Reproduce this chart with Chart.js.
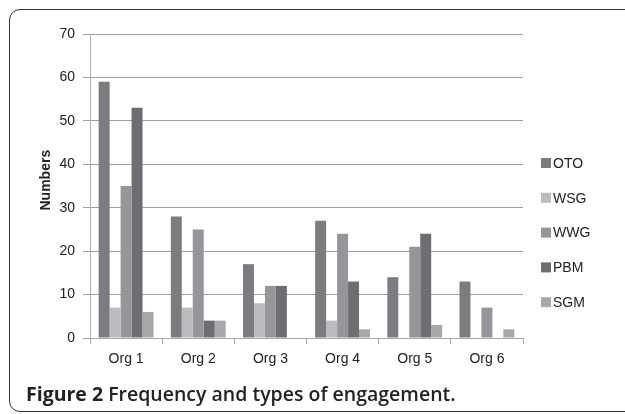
<!DOCTYPE html>
<html>
<head>
<meta charset="utf-8">
<script src="https://cdn.jsdelivr.net/npm/chart.js@4/dist/chart.umd.min.js"></script>
<style>
  html, body { margin: 0; padding: 0; background: #fff; }
  #wrap { position: relative; width: 625px; height: 414px; overflow: hidden; }
  #frame { position: absolute; left: 9px; top: 9px; width: 640px; height: 403px;
           border: 1.5px solid #333; border-radius: 11px; box-sizing: border-box; }
  canvas { position: absolute; left: 0; top: 0; }
  #caption { position: absolute; left: 26px; top: 380px; font-family: "Open Sans", sans-serif;
             font-size: 19.5px; color: #222; white-space: nowrap; font-weight: 600; }
  #caption b { font-weight: 700; }
</style>
</head>
<body>
<div id="wrap">
  <div id="frame"></div>
  <canvas id="c" width="625" height="414"></canvas>
  <div id="caption"><b>Figure 2</b> Frequency and types of engagement.</div>
</div>
<script>
const categories = ["Org 1", "Org 2", "Org 3", "Org 4", "Org 5", "Org 6"];
const seriesNames = ["OTO", "WSG", "WWG", "PBM", "SGM"];
const OTO = [59, 28, 17, 27, 14, 13];
const WSG = [7, 7, 8, 4, 0, 0];
const WWG = [35, 25, 12, 24, 21, 7];
const PBM = [53, 4, 12, 13, 24, 0];
const SGM = [6, 4, 0, 2, 3, 2];
const yTicks = [0, 10, 20, 30, 40, 50, 60, 70];
const colors = ["#7c7c80", "#bcbcbf", "#96969a", "#6e6e72", "#a8a8ab"];
const seriesValues = [OTO, WSG, WWG, PBM, SGM];

const legendPlugin = {
  id: 'sideLegend',
  afterDraw(chart) {
    const ctx = chart.ctx;
    ctx.save();
    ctx.font = '14px "Liberation Sans", Arial, sans-serif';
    ctx.textBaseline = 'middle';
    chart.data.datasets.forEach((ds, i) => {
      const y = 163 + i * 34.8;
      ctx.fillStyle = ds.backgroundColor;
      ctx.fillRect(541, y - 5, 10, 10);
      ctx.fillStyle = '#222';
      ctx.fillText(ds.label, 553, y + 1);
    });
    ctx.restore();
  }
};

new Chart(document.getElementById('c'), {
  type: 'bar',
  data: {
    labels: categories,
    datasets: seriesNames.map((n, i) => ({
      label: n,
      data: seriesValues[i],
      backgroundColor: colors[i],
      borderWidth: 0,
      categoryPercentage: 0.76,
      barPercentage: 1.0
    }))
  },
  options: {
    responsive: false,
    animation: false,
    devicePixelRatio: 1,
    layout: { padding: { left: 0, right: 102, top: 34, bottom: 0 } },
    plugins: { legend: { display: false }, tooltip: { enabled: false } },
    scales: {
      x: {
        offset: true,
        grid: { display: true, drawOnChartArea: false, offset: true, color: '#a8a8a8', tickLength: 6 },
        border: { color: '#a8a8a8' },
        ticks: { color: '#222', font: { family: 'Liberation Sans', size: 14 }, padding: 7, maxRotation: 0 },
        afterFit(s) { s.height = 76; }
      },
      y: {
        min: 0, max: 70,
        afterBuildTicks(s) { s.ticks = yTicks.map(v => ({ value: v })); },
        grid: { color: '#a0a0a0', tickLength: 7 },
        border: { color: '#b0b0b0' },
        ticks: { color: '#222', font: { family: 'Liberation Sans', size: 14 }, padding: 8 },
        title: { display: true, text: '   Numbers', color: '#222',
                 font: { family: 'Liberation Sans', size: 14, weight: 'bold' }, padding: { top: 38, bottom: 0 } },
        afterFit(s) { s.width = 90; }
      }
    }
  },
  plugins: [legendPlugin]
});
</script>
</body>
</html>
